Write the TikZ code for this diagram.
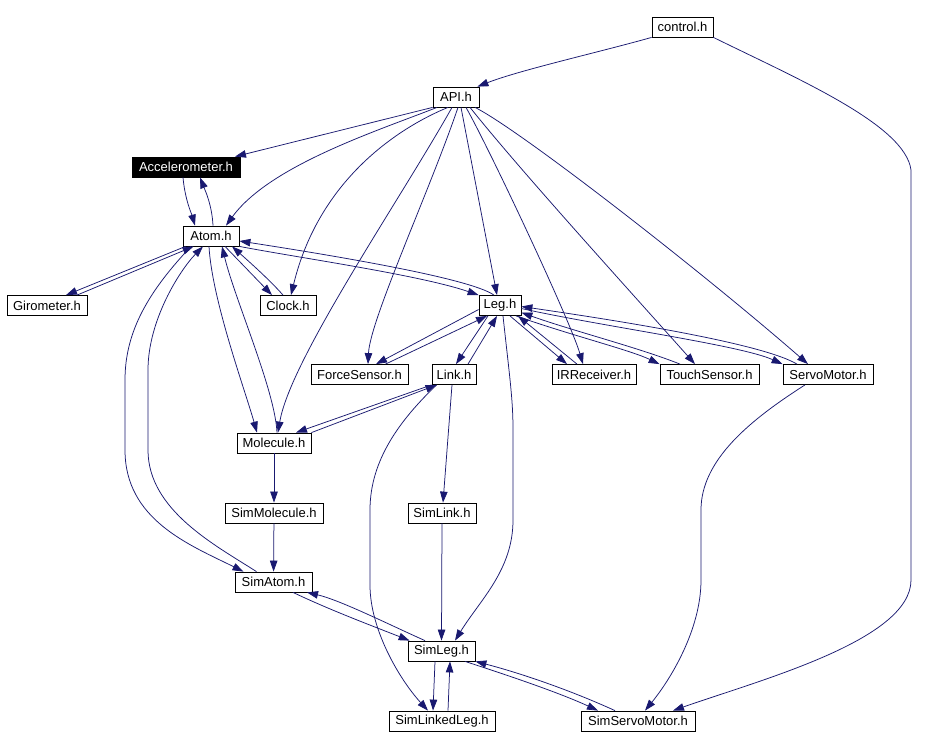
\documentclass[tikz,border=0pt]{standalone}
\usepackage{fontspec}
\setmainfont{Liberation Sans}
\usetikzlibrary{arrows.meta}
\definecolor{edgeblue}{HTML}{191970}
\begin{document}
\begin{tikzpicture}[x=1pt,y=-1pt,
  file/.style={draw=black,line width=0.8pt,fill=white,inner sep=0pt,minimum height=20pt,
    font=\fontsize{13}{15}\selectfont,text=black},
  filehl/.style={file,fill=black,text=white},
  dep/.style={draw=edgeblue,line width=0.75pt,-{Triangle[length=11pt,width=7.5pt]}}]
\useasboundingbox[fill=white] (0,0) rectangle (929,748);
% nodes
\node[file,minimum width=61pt] (control) at (682.5,27) {control.h};
\node[file,minimum width=46pt] (api) at (456,97) {API.h};
\node[filehl,minimum width=108pt] (acc) at (186,167) {Accelerometer.h};
\node[file,minimum width=56pt] (atom) at (211,236) {Atom.h};
\node[file,minimum width=80pt] (giro) at (47,305.5) {Girometer.h};
\node[file,minimum width=56pt] (clock) at (288,305.5) {Clock.h};
\node[file,minimum width=42pt] (leg) at (500,305.5) {Leg.h};
\node[file,minimum width=97pt] (force) at (359.5,374.5) {ForceSensor.h};
\node[file,minimum width=44pt] (link) at (454,374.5) {Link.h};
\node[file,minimum width=84pt] (ir) at (594,374.5) {IRReceiver.h};
\node[file,minimum width=99pt] (touch) at (709.5,374.5) {TouchSensor.h};
\node[file,minimum width=90pt] (servo) at (828,374.5) {ServoMotor.h};
\node[file,minimum width=74pt] (mol) at (274,443) {Molecule.h};
\node[file,minimum width=98pt] (simmol) at (274,513) {SimMolecule.h};
\node[file,minimum width=68pt] (simlink) at (442,513) {SimLink.h};
\node[file,minimum width=77pt] (simatom) at (273.5,582) {SimAtom.h};
\node[file,minimum width=67pt] (simleg) at (441.5,651) {SimLeg.h};
\node[file,minimum width=106pt] (simlinked) at (442,721) {SimLinkedLeg.h};
\node[file,minimum width=114pt] (simservo) at (638,721) {SimServoMotor.h};
% control
\draw[dep] (control.south west) .. controls (600,52) and (520,70) .. ([xshift=-2pt]api.north east);
\draw[dep] (control.south east) .. controls (800,80) and (905,125) .. (911,170) -- (911,580) .. controls (911,640) and (760,680) .. ([xshift=35pt]simservo.north);
% API
\draw[dep] (api.south west) -- ([xshift=49pt]acc.north);
\draw[dep] ([xshift=-19pt]api.south) .. controls (380,130) and (270,165) .. ([xshift=15pt]atom.north);
\draw[dep] ([xshift=-8pt]api.south) .. controls (405,125) and (320,175) .. ([xshift=3pt]clock.north);
\draw[dep] ([xshift=-4pt]api.south) .. controls (400,200) and (290,360) .. ([xshift=4pt]mol.north);
\draw[dep] ([xshift=2pt]api.south) .. controls (430,190) and (370,320) .. ([xshift=8.5pt]force.north);
\draw[dep] ([xshift=5pt]api.south) -- ([xshift=-3pt]leg.north);
\draw[dep] ([xshift=10pt]api.south) .. controls (490,150) and (570,320) .. ([xshift=-11pt]ir.north);
\draw[dep] ([xshift=14pt]api.south) .. controls (520,170) and (620,280) .. ([xshift=-14.5pt]touch.north);
\draw[dep] ([xshift=19pt]api.south) .. controls (520,130) and (700,270) .. ([xshift=-20pt]servo.north);
% Atom / Accelerometer
\draw[dep] ([xshift=-3pt]acc.south) .. controls (185,200) and (192,215) .. ([xshift=-16pt]atom.north);
\draw[dep] ([xshift=2pt]atom.north) .. controls (212,205) and (205,190) .. ([xshift=14pt]acc.south);
% Atom / Girometer
\draw[dep] ([xshift=3pt]atom.south west) -- ([xshift=19pt]giro.north);
\draw[dep] ([xshift=30pt]giro.north) -- ([xshift=11pt]atom.south west);
% Atom / Clock
\draw[dep] ([xshift=14pt]atom.south) -- ([xshift=-16pt]clock.north);
\draw[dep] ([xshift=-5pt]clock.north) .. controls (270,280) and (245,258) .. ([xshift=21pt]atom.south);
% Atom / Molecule
\draw[dep] ([xshift=-2pt]atom.south) .. controls (212,300) and (245,390) .. ([xshift=-17pt]mol.north);
\draw[dep] ([xshift=3pt]mol.north) .. controls (275,390) and (235,300) .. ([xshift=11pt]atom.south);
% Atom / SimAtom
\draw[dep] ([xshift=-20pt]atom.south) .. controls (150,290) and (125,330) .. (125,380) -- (125,450) .. controls (125,520) and (190,545) .. ([xshift=-30pt]simatom.north);
\draw[dep] ([xshift=-17pt]simatom.north) .. controls (215,545) and (148,510) .. (148,450) -- (148,370) .. controls (148,320) and (180,270) .. ([xshift=-8pt]atom.south);
% Atom / Leg
\draw[dep] (atom.south east) .. controls (300,258) and (420,275) .. (leg.north west);
\draw[dep] ([xshift=-6pt]leg.north) .. controls (470,278) and (330,255) .. ([yshift=-5pt]atom.east);
% Leg / ForceSensor
\draw[dep] ([yshift=-4pt]leg.west) -- ([xshift=16.5pt]force.north);
\draw[dep] ([xshift=26pt]force.north) -- ([xshift=-13pt]leg.south);
% Leg / Link
\draw[dep] ([xshift=-12pt]leg.south) -- ([xshift=2pt]link.north);
\draw[dep] ([xshift=14pt]link.north) -- ([xshift=-3pt]leg.south);
% Leg / IRReceiver
\draw[dep] ([xshift=10pt]leg.south) -- ([xshift=-27pt]ir.north);
\draw[dep] ([xshift=-17pt]ir.north) -- ([xshift=18pt]leg.south);
% Leg / TouchSensor
\draw[dep] ([xshift=16pt]leg.south) .. controls (570,335) and (630,350) .. (touch.north west);
\draw[dep] ([xshift=-29.5pt]touch.north) .. controls (640,348) and (570,330) .. ([yshift=-7pt]leg.east);
% Leg / ServoMotor
\draw[dep] ([yshift=-3pt]leg.east) .. controls (600,326) and (740,345) .. (servo.north west);
\draw[dep] ([xshift=-31pt]servo.north) .. controls (760,342) and (600,318) .. ([yshift=-1pt]leg.east);
% Leg -> SimLeg
\draw[dep] ([xshift=3pt]leg.south) .. controls (510,380) and (513,400) .. (513,430) -- (513,520) .. controls (513,570) and (480,600) .. ([xshift=13.5pt]simleg.north);
% Link
\draw[dep] (link.south west) -- ([xshift=22pt]mol.north);
\draw[dep] (mol.north east) -- ([xshift=5pt]link.south west);
\draw[dep] ([xshift=5pt]link.south west) .. controls (400,420) and (370,460) .. (370,510) -- (370,585) .. controls (370,630) and (400,680) .. ([xshift=-14pt]simlinked.north);
\draw[dep] ([xshift=-2pt]link.south) -- ([xshift=1pt]simlink.north);
\draw[dep] (simlink.south) -- (simleg.north);
% Molecule chain
\draw[dep] (mol) -- (simmol);
\draw[dep] (simmol) -- (simatom);
% SimAtom / SimLeg
\draw[dep] ([xshift=19.5pt]simatom.south) .. controls (330,610) and (370,625) .. ([xshift=2pt]simleg.north west);
\draw[dep] ([xshift=-16.5pt]simleg.north) .. controls (390,625) and (340,600) .. ([xshift=33.5pt]simatom.south);
% SimLeg / SimLinkedLeg
\draw[dep] ([xshift=-6.5pt]simleg.south) -- ([xshift=-9pt]simlinked.north);
\draw[dep] ([xshift=6pt]simlinked.north) -- ([xshift=8.5pt]simleg.south);
% SimLeg / SimServoMotor
\draw[dep] ([xshift=23.5pt]simleg.south) .. controls (510,676) and (560,693) .. ([xshift=-40pt]simservo.north);
\draw[dep] ([xshift=-23pt]simservo.north) .. controls (570,690) and (520,673) .. (simleg.south east);
% ServoMotor -> SimServoMotor
\draw[dep] ([xshift=-23pt]servo.south) .. controls (750,420) and (701,460) .. (701,510) -- (701,580) .. controls (701,630) and (670,680) .. ([xshift=7pt]simservo.north);
\end{tikzpicture}
\end{document}
